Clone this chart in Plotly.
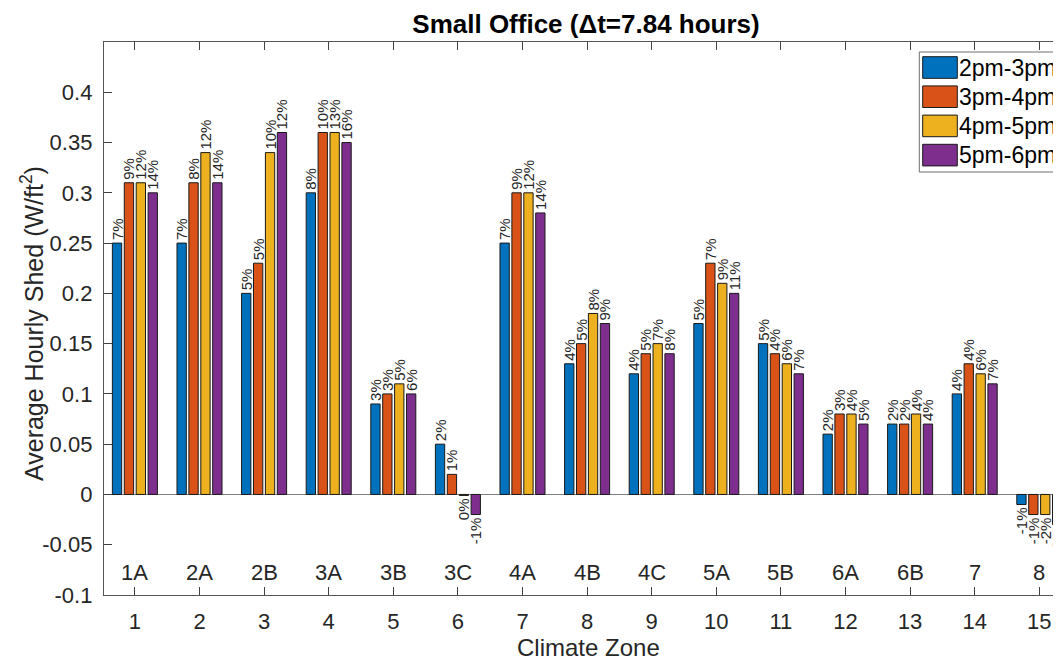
import plotly.graph_objects as go

# ---------------- data ----------------
zones = list(range(1, 16))
zone_names = ["1A", "2A", "2B", "3A", "3B", "3C", "4A", "4B", "4C", "5A", "5B", "6A", "6B", "7", "8"]
series_names = ["2pm-3pm", "3pm-4pm", "4pm-5pm", "5pm-6pm"]
colors = ["#0072BD", "#D95319", "#EDB120", "#7E2F8E"]

shed_2_3 = [0.25, 0.25, 0.20, 0.30, 0.09, 0.05, 0.25, 0.13, 0.12, 0.17, 0.15, 0.06, 0.07, 0.10, -0.01]
shed_3_4 = [0.31, 0.31, 0.23, 0.36, 0.10, 0.02, 0.30, 0.15, 0.14, 0.23, 0.14, 0.08, 0.07, 0.13, -0.02]
shed_4_5 = [0.31, 0.34, 0.34, 0.36, 0.11, -0.001, 0.30, 0.18, 0.15, 0.21, 0.13, 0.08, 0.08, 0.12, -0.02]
shed_5_6 = [0.30, 0.31, 0.36, 0.35, 0.10, -0.02, 0.28, 0.17, 0.14, 0.20, 0.12, 0.07, 0.07, 0.11, -0.03]

pct_2_3 = ["7%", "7%", "5%", "8%", "3%", "2%", "7%", "4%", "4%", "5%", "5%", "2%", "2%", "4%", "-1%"]
pct_3_4 = ["9%", "8%", "5%", "10%", "3%", "1%", "9%", "5%", "5%", "7%", "4%", "3%", "2%", "4%", "-1%"]
pct_4_5 = ["12%", "12%", "10%", "13%", "5%", "0%", "12%", "8%", "7%", "9%", "6%", "4%", "4%", "6%", "-2%"]
pct_5_6 = ["14%", "14%", "12%", "16%", "6%", "-1%", "14%", "9%", "8%", "11%", "7%", "5%", "4%", "7%", "-2%"]

y_tickvals = [-0.1, -0.05, 0, 0.05, 0.1, 0.15, 0.2, 0.25, 0.3, 0.35, 0.4]
y_ticktext = ["-0.1", "-0.05", "0", "0.05", "0.1", "0.15", "0.2", "0.25", "0.3", "0.35", "0.4"]
x_ticktext = [str(z) for z in zones]

title_text = "Small Office (\u0394t=7.84 hours)"
x_title = "Climate Zone"
y_title = "Average Hourly Shed (W/ft<sup>2</sup>)"

# ---------------- layout constants ----------------
OFF = 8                      # page body margin of the html page
PAGE_W, PAGE_H = 1061, 660
W, H = PAGE_W - OFF, PAGE_H - OFF
ML, MR, MT, MB = 104 - OFF, 0, 42 - OFF, 65
PW, PH = W - ML - MR, H - MT - MB
PX_PER_ZONE = 64.6
X0 = 1 - (134.9 - 104) / PX_PER_ZONE
FONT = "Liberation Sans, Arial, Helvetica, sans-serif"
TXT = "#262626"


def px_x(px):
    """page pixel x -> paper coordinate"""
    return (px - OFF - ML) / PW


def px_y(py):
    """page pixel y -> paper coordinate"""
    return (PAGE_H - MB - py) / PH


series_values = [shed_2_3, shed_3_4, shed_4_5, shed_5_6]
series_pcts = [pct_2_3, pct_3_4, pct_4_5, pct_5_6]

fig = go.Figure()
for name, vals, pcts, col in zip(series_names, series_values, series_pcts, colors):
    fig.add_trace(go.Bar(
        x=zones, y=vals, name=name, text=pcts,
        textposition="outside", textangle=-90, constraintext="none",
        textfont=dict(family=FONT, size=15, color=TXT),
        marker=dict(color=col, line=dict(color="#1a1a1a", width=1)),
        cliponaxis=False, showlegend=False,
    ))

annotations = []
for z, nm in zip(zones, zone_names):
    annotations.append(dict(x=z, y=-0.0775, xref="x", yref="y", text=nm, showarrow=False,
                            font=dict(family=FONT, size=22, color=TXT),
                            xanchor="center", yanchor="middle"))
annotations.append(dict(x=px_x(588), y=px_y(647), xref="paper", yref="paper", text=x_title,
                        showarrow=False, font=dict(family=FONT, size=24, color=TXT),
                        xanchor="center", yanchor="middle"))
annotations.append(dict(x=px_x(32), y=px_y(324), xref="paper", yref="paper", text=y_title,
                        showarrow=False, textangle=-90, font=dict(family=FONT, size=25, color=TXT),
                        xanchor="center", yanchor="middle"))

# MATLAB-style legend box (cut by the right edge as in the reference)
shapes = []
leg_left, leg_top, leg_bot = 919.3, 52, 172
shapes.append(dict(type="rect", xref="paper", yref="paper",
                   x0=px_x(leg_left), x1=px_x(PAGE_W + 60), y0=px_y(leg_bot), y1=px_y(leg_top),
                   line=dict(color="#6e6e6e", width=1), fillcolor="white", layer="above"))
for i, (nm, col) in enumerate(zip(series_names, colors)):
    top = 56.7 + 29.2 * i
    bot = top + 21.6
    shapes.append(dict(type="rect", xref="paper", yref="paper",
                       x0=px_x(922.7), x1=px_x(957.3), y0=px_y(bot), y1=px_y(top),
                       line=dict(color="#1a1a1a", width=1), fillcolor=col, layer="above"))
    annotations.append(dict(x=px_x(957.0), y=px_y((top + bot) / 2), xref="paper", yref="paper",
                            text=nm, showarrow=False, font=dict(family=FONT, size=23, color="black"),
                            xanchor="left", yanchor="middle"))

fig.update_layout(
    width=W, height=H, autosize=False,
    margin=dict(l=ML, r=MR, t=MT, b=MB, pad=0),
    paper_bgcolor="white", plot_bgcolor="white",
    barmode="group", bargap=0.263, bargroupgap=0.218,
    title=dict(text="<b>" + title_text + "</b>", x=(586 - OFF) / W, xref="container", xanchor="center",
               y=1 - (24 - OFF) / H, yref="container", yanchor="middle",
               font=dict(family=FONT, size=26, color="black")),
    xaxis=dict(range=[X0, X0 + PW / PX_PER_ZONE], tickvals=zones, ticktext=x_ticktext,
               ticks="inside", ticklen=8, tickwidth=1, tickcolor="#404040",
               showline=True, linecolor="#555555", linewidth=1.3, mirror="ticks",
               showgrid=False, zeroline=False, ticklabelstandoff=6,
               tickfont=dict(family=FONT, size=22, color=TXT)),
    yaxis=dict(range=[-0.1, 0.45], tickvals=y_tickvals, ticktext=y_ticktext,
               ticks="inside", ticklen=8, tickwidth=1, tickcolor="#404040",
               showline=True, linecolor="#555555", linewidth=1.3, mirror=False,
               showgrid=False, zeroline=True, zerolinecolor="#7f7f7f", zerolinewidth=1.3,
               ticklabelstandoff=6,
               tickfont=dict(family=FONT, size=22, color=TXT)),
    annotations=annotations,
    shapes=shapes,
)

fig.write_html("out.html")
